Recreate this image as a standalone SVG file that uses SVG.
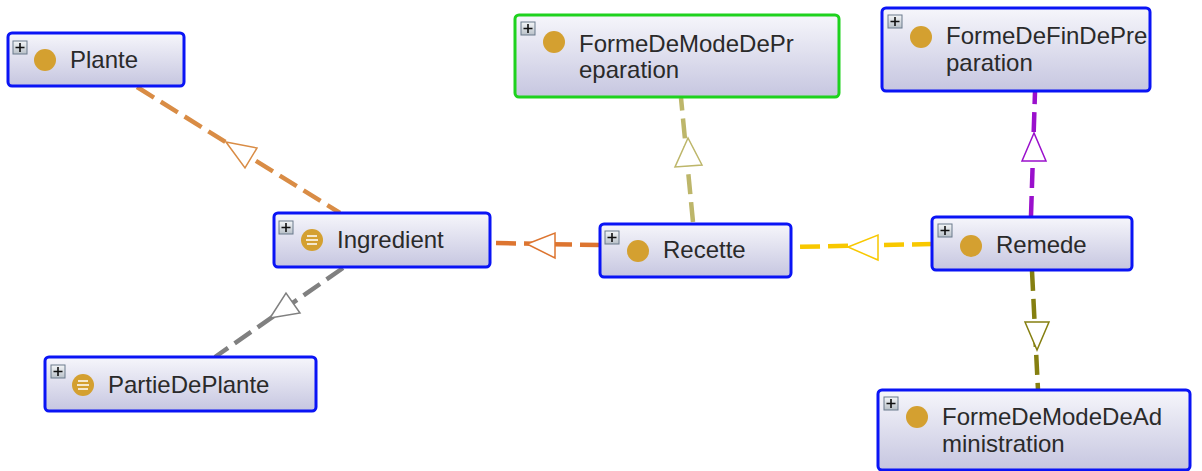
<svg xmlns="http://www.w3.org/2000/svg" width="1202" height="471" viewBox="0 0 1202 471">
<style>
.node{fill:url(#ng);stroke:#0a14f5;stroke-width:3}
.sel{stroke:#1ed21e}
.lbl{font-family:"Liberation Sans",Arial,sans-serif;font-size:24px;fill:#2a2a2a}
.plus{fill:url(#pg);stroke:#6a7a8c;stroke-width:1}
.pl{stroke:#111;stroke-width:1.6}
.ic{fill:#d4a030}
.edge{fill:none;stroke-width:4.5;stroke-dasharray:20 8}
.ah{fill:#fff;stroke-width:1.5}
</style>
<defs>
<linearGradient id="ng" x1="0" y1="0" x2="0" y2="1">
<stop offset="0" stop-color="#f6f6fb"/>
<stop offset="1" stop-color="#c6c6e0"/>
</linearGradient>
<linearGradient id="pg" x1="0" y1="0" x2="0" y2="1">
<stop offset="0" stop-color="#f4f6f8"/>
<stop offset="1" stop-color="#b8c0c8"/>
</linearGradient>
</defs>
<rect width="1202" height="471" fill="#fff"/>
<g id="connectors">
<path class="edge" stroke="#d98c45" d="M137 87 L340 213"/>
<polygon class="ah" stroke="#d98c45" points="226,142 257,148 245,168"/>
<path class="edge" stroke="#808080" d="M343 268 L215 357"/>
<polygon class="ah" stroke="#808080" points="270,318 286,293 300,313"/>
<path class="edge" stroke="#dd7530" d="M600 245 L490 243"/>
<polygon class="ah" stroke="#dd7530" points="527,244 555,233 555,258"/>
<path class="edge" stroke="#bdb66a" d="M693 222 L681 98"/>
<polygon class="ah" stroke="#bdb66a" points="688,138 675,167 702,165"/>
<path class="edge" stroke="#f8c800" d="M932 244 L791 247"/>
<polygon class="ah" stroke="#f8c800" points="848,247 878,235 878,260"/>
<path class="edge" stroke="#9a10cc" d="M1031 216 L1035 92"/>
<polygon class="ah" stroke="#9a10cc" points="1034,133 1022,161 1046,161"/>
<path class="edge" stroke="#857f10" d="M1032 271 L1038 390"/>
<polygon class="ah" stroke="#857f10" points="1037,350 1025,322 1049,322"/>
</g>
<g id="Plante">
<rect class="node" x="8" y="33" width="176" height="53" rx="4"/>
<rect class="plus" x="13" y="41" width="14" height="13"/>
<path class="pl" d="M15.5 47.5h9M20 43v9"/>
<circle class="ic" cx="45" cy="60" r="11"/>
<text class="lbl" x="70" y="68">Plante</text>
</g>
<g id="Ingredient">
<rect class="node" x="274" y="213" width="216" height="54" rx="4"/>
<rect class="plus" x="279" y="221" width="14" height="13"/>
<path class="pl" d="M281.5 227.5h9M286 223v9"/>
<circle class="ic" cx="312" cy="240" r="11"/>
<path d="M307 236h10M306 240h12M307 244h10" stroke="#fff" stroke-width="1.6"/>
<text class="lbl" x="337" y="248">Ingredient</text>
</g>
<g id="Recette">
<rect class="node" x="600" y="224" width="191" height="53" rx="4"/>
<rect class="plus" x="605" y="231" width="14" height="13"/>
<path class="pl" d="M607.5 237.5h9M612 233v9"/>
<circle class="ic" cx="638" cy="251" r="11"/>
<text class="lbl" x="663" y="258">Recette</text>
</g>
<g id="FormeDeModeDePreparation">
<rect class="node sel" x="515" y="15" width="324" height="82" rx="4"/>
<rect class="plus" x="521" y="22" width="14" height="13"/>
<path class="pl" d="M523.5 28.5h9M528 24v9"/>
<circle class="ic" cx="554" cy="42" r="11"/>
<text class="lbl" x="579" y="52">FormeDeModeDePr</text>
<text class="lbl" x="579" y="78">eparation</text>
</g>
<g id="FormeDeFinDePreparation">
<rect class="node" x="882" y="8" width="268" height="83" rx="4"/>
<rect class="plus" x="888" y="15" width="14" height="13"/>
<path class="pl" d="M890.5 21.5h9M895 17v9"/>
<circle class="ic" cx="921" cy="37" r="11"/>
<text class="lbl" x="946" y="44">FormeDeFinDePre</text>
<text class="lbl" x="946" y="71">paration</text>
</g>
<g id="Remede">
<rect class="node" x="932" y="217" width="200" height="53" rx="4"/>
<rect class="plus" x="938" y="224" width="14" height="13"/>
<path class="pl" d="M940.5 230.5h9M945 226v9"/>
<circle class="ic" cx="971" cy="246" r="11"/>
<text class="lbl" x="996" y="253">Remede</text>
</g>
<g id="FormeDeModeDeAdministration">
<rect class="node" x="878" y="390" width="312" height="80" rx="4"/>
<rect class="plus" x="884" y="397" width="14" height="13"/>
<path class="pl" d="M886.5 403.5h9M891 399v9"/>
<circle class="ic" cx="917" cy="417" r="11"/>
<text class="lbl" x="942" y="425">FormeDeModeDeAd</text>
<text class="lbl" x="942" y="452">ministration</text>
</g>
<g id="PartieDePlante">
<rect class="node" x="45" y="357" width="271" height="54" rx="4"/>
<rect class="plus" x="51" y="365" width="14" height="13"/>
<path class="pl" d="M53.5 371.5h9M58 367v9"/>
<circle class="ic" cx="83" cy="385" r="11"/>
<path d="M78 381h10M77 385h12M78 389h10" stroke="#fff" stroke-width="1.6"/>
<text class="lbl" x="108" y="393">PartieDePlante</text>
</g>
</svg>
